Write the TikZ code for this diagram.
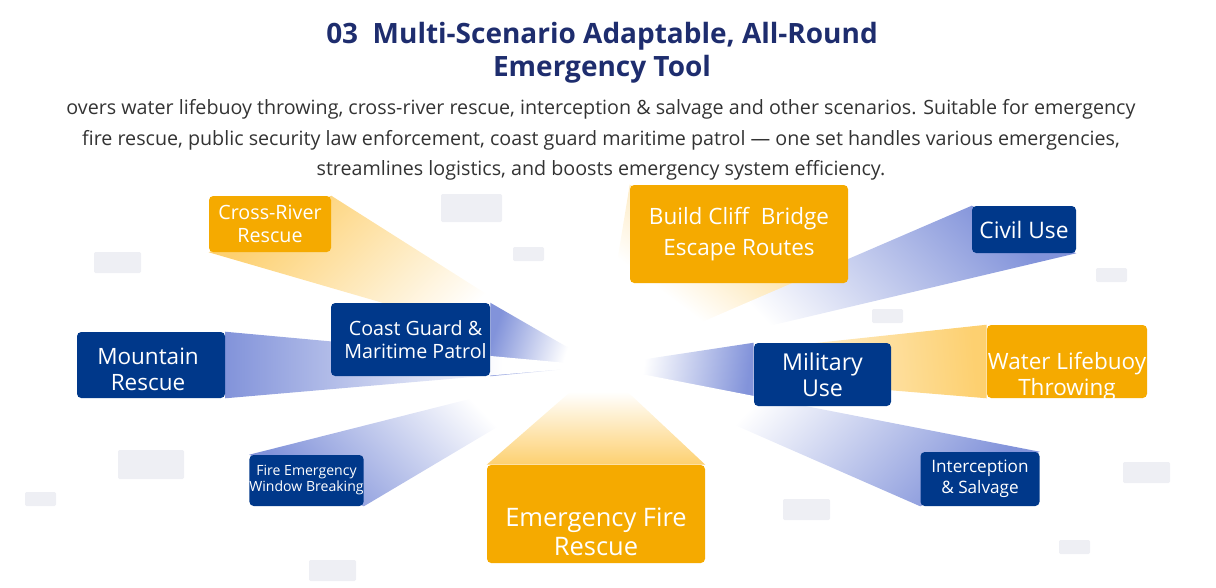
\documentclass[tikz,border=0pt]{standalone}
\usepackage{fontspec}
\setmainfont{Open Sans}
\usetikzlibrary{positioning,calc,backgrounds}
\definecolor{navy}{RGB}{0,56,138}
\definecolor{amber}{RGB}{245,170,0}
\definecolor{fanblue}{RGB}{130,147,218}
\definecolor{fanamber}{RGB}{253,208,112}
\definecolor{chipgray}{RGB}{238,239,244}
\definecolor{headline}{RGB}{30,45,110}
\definecolor{bodytext}{RGB}{51,51,51}
\pgfdeclareverticalshading{bluefan}{100bp}{color(0bp)=(white); color(38bp)=(white); color(75bp)=(fanblue); color(100bp)=(fanblue)}
\pgfdeclareverticalshading{amberfan}{100bp}{color(0bp)=(white); color(38bp)=(white); color(75bp)=(fanamber); color(100bp)=(fanamber)}
\newlength{\pxu}
\setlength{\pxu}{0.025cm}
\newcommand{\fs}[2]{\fontsize{#1}{#2}\selectfont}
\begin{document}
\begin{tikzpicture}[x=0.025cm, y=-0.025cm, line join=round,
  card/.style={rounded corners=3pt, text=white, align=center, inner sep=0pt},
  bluecard/.style={card, fill=navy},
  ambercard/.style={card, fill=amber},
  chip/.style={fill=chipgray, rounded corners=1pt},
  bluefan/.style={shading=bluefan, shading angle=#1},
  amberfan/.style={shading=amberfan, shading angle=#1}]
\useasboundingbox (0,0) rectangle (1216,587);
% heading
\node[font=\bfseries\fs{19.9}{23.5}, text=headline, align=center] (title) at (602,53) {03~~Multi-Scenario Adaptable, All-Round\\Emergency Tool};
\node[font=\fs{14}{21.7}, text=bodytext, align=center] (intro) at (601,140) {overs water lifebuoy throwing, cross-river rescue, interception \& salvage and other scenarios. Suitable for emergency\\fire rescue, public security law enforcement, coast guard maritime patrol --- one set handles various emergencies,\\streamlines logistics, and boosts emergency system efficiency.};
% hub
\coordinate (hub) at (600,366);
% cards
\node[ambercard, minimum width=122*\pxu, minimum height=56*\pxu, font=\fs{14}{16.4}] (river) at (270,224) {Cross-River\\Rescue};
\node[ambercard, minimum width=218*\pxu, minimum height=98*\pxu, font=\fs{16}{22}] (cliff) at (739,234) {Build Cliff~~Bridge\\Escape Routes};
\node[bluecard, minimum width=104*\pxu, minimum height=47*\pxu, font=\fs{16.2}{18.5}] (civil) at (1024,229.5) {Civil Use};
\node[bluecard, minimum width=159*\pxu, minimum height=73*\pxu, font=\fs{14}{16.4}] (coast) at (410.5,339.5) {\hspace*{10\pxu}Coast Guard \&\\\hspace*{10\pxu}Maritime Patrol};
\node[bluecard, minimum width=148*\pxu, minimum height=66*\pxu] (mountain) at (151,365) {};
\node[font=\fs{16}{18.5}, text=white, align=center] (mountain-text) at ($(mountain.center)+(-3,4)$) {Mountain\\Rescue};
\node[bluecard, minimum width=137*\pxu, minimum height=63*\pxu, font=\fs{16.5}{18.5}] (military) at (822.5,374.5) {Military\\Use};
\node[ambercard, minimum width=160*\pxu, minimum height=73*\pxu] (water) at (1067,361.5) {};
\node[font=\fs{16}{18.5}, text=white, align=center] (water-text) at ($(water.center)+(0,15)$) {Water Lifebuoy\\Throwing};
\node[bluecard, minimum width=111*\pxu, minimum height=51*\pxu, font=\fs{10}{11.4}] (fire) at (306.5,480.5) {Fire Emergency\\Window Breaking};
\node[bluecard, minimum width=119*\pxu, minimum height=54*\pxu, font=\fs{12.2}{15}] (intercept) at (980,479) {Interception\\\& Salvage};
\node[ambercard, minimum width=218*\pxu, minimum height=98*\pxu] (rescue) at (596,514) {};
\node[font=\fs{18.1}{20.6}, text=white, align=center] (rescue-text) at ($(rescue.center)+(0,18)$) {Emergency Fire\\Rescue};
\begin{scope}[on background layer]
% grey chips
\fill[chip] (441,194) rectangle (502,222);
\fill[chip] (513,247) rectangle (544,261);
\fill[chip] (94,252) rectangle (141,273);
\fill[chip] (118,450) rectangle (184,479);
\fill[chip] (25,492) rectangle (56,506);
\fill[chip] (309,560) rectangle (356,581);
\fill[chip] (1096,268) rectangle (1127,282);
\fill[chip] (872,309) rectangle (903,323);
\fill[chip] (1123,462) rectangle (1170,483);
\fill[chip] (783,499) rectangle (830,520);
\fill[chip] (1059,540) rectangle (1090,554);
% fans
\shade[amberfan=45] (hub) -- (river.north east) -- (river.south west) -- cycle;
\shade[amberfan=-37] (hub) -- (cliff.north west) -- (cliff.south east) -- cycle;
\shade[amberfan=180] (hub) -- (rescue.north west) -- (rescue.north east) -- cycle;
\shade[amberfan=-85] (hub) -- (water.north west) -- (water.south west) -- cycle;
\shade[bluefan=72] (hub) -- (coast.north east) -- (coast.south east) -- cycle;
\shade[bluefan=90] (hub) -- (mountain.north east) -- (mountain.south east) -- cycle;
\shade[bluefan=134] (hub) -- (fire.north west) -- (fire.south east) -- cycle;
\shade[bluefan=-46] (hub) -- (civil.north west) -- (civil.south east) -- cycle;
\shade[bluefan=-98] (hub) -- (military.north west) -- (military.south west) -- cycle;
\shade[bluefan=-133] (hub) -- (intercept.north east) -- (intercept.south west) -- cycle;
\end{scope}
\end{tikzpicture}
\end{document}
